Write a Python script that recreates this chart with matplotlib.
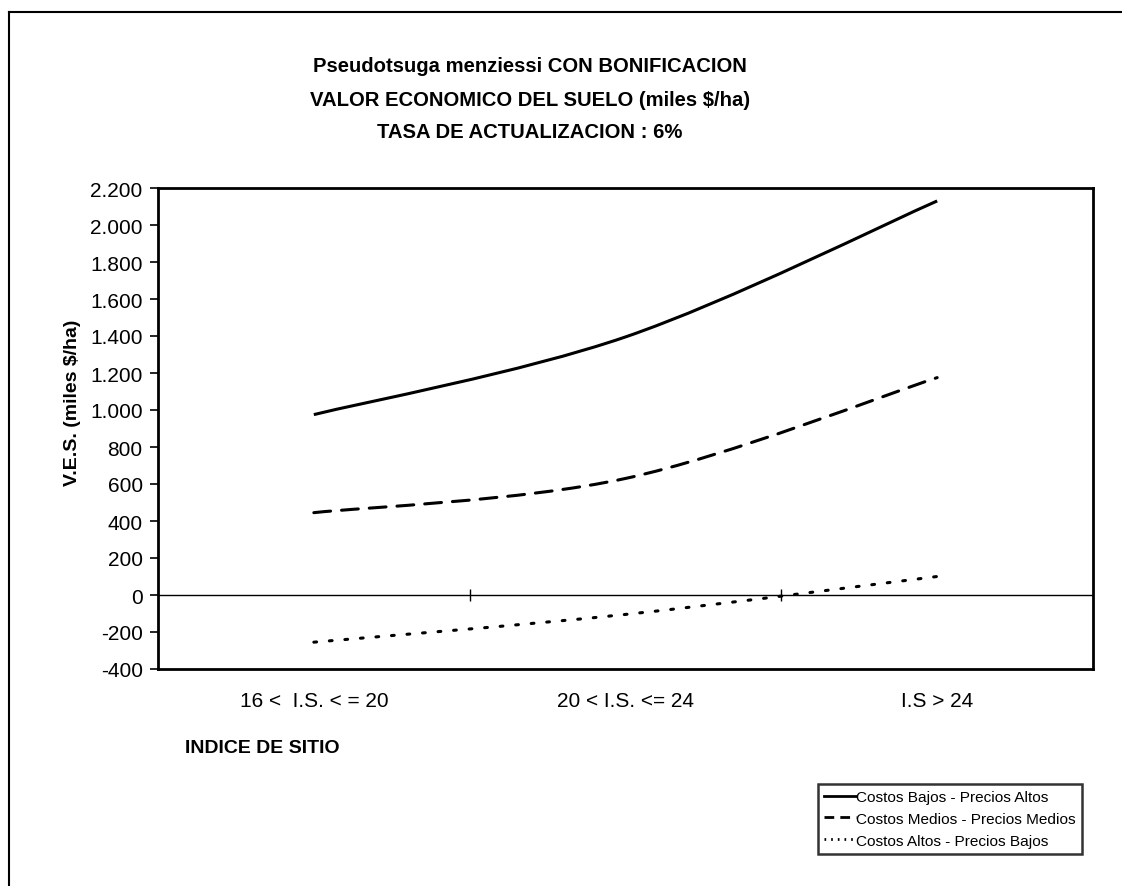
import matplotlib
matplotlib.use("Agg")
import matplotlib.pyplot as plt
from matplotlib.path import Path
from matplotlib.patches import PathPatch
from matplotlib.lines import Line2D
from matplotlib.ticker import FuncFormatter

plt.rcParams['font.family'] = ['Liberation Sans', 'DejaVu Sans']

title_lines = ["Pseudotsuga menziessi CON BONIFICACION",
               "VALOR ECONOMICO DEL SUELO (miles $/ha)",
               "TASA DE ACTUALIZACION : 6%"]
categories = ["16 <  I.S. < = 20", "20 < I.S. <= 24", "I.S > 24"]
series_names = ["Costos Bajos - Precios Altos",
                "Costos Medios - Precios Medios",
                "Costos Altos - Precios Bajos"]
bajos_altos = [975, 1395, 2130]
medios_medios = [445, 630, 1175]
altos_bajos = [-255, -105, 100]
y_ticks = list(range(-400, 2201, 200))

fig = plt.figure(figsize=(11.22, 8.87), dpi=100)
ax = fig.add_axes([158/1122, 1-670/887, (1093-158)/1122, (670-189)/887])

def smooth_path(xs, ys):
    pts = list(zip(xs, ys))
    n = len(pts)
    verts = [pts[0]]
    codes = [Path.MOVETO]
    for i in range(n-1):
        p0 = pts[i-1] if i > 0 else pts[i]
        p1 = pts[i]
        p2 = pts[i+1]
        p3 = pts[i+2] if i+2 < n else pts[i+1]
        c1 = (p1[0] + (p2[0]-p0[0])/6, p1[1] + (p2[1]-p0[1])/6)
        c2 = (p2[0] - (p3[0]-p1[0])/6, p2[1] - (p3[1]-p1[1])/6)
        verts += [c1, c2, p2]
        codes += [Path.CURVE4]*3
    return Path(verts, codes)

xs = list(range(len(categories)))
lw = 2.2
styles = [dict(linestyle='-'),
          dict(linestyle=(0, (5.5, 3.6))),
          dict(linestyle=(0, (0.9, 4.2)))]
legend_styles = [dict(linestyle='-'),
                 dict(linestyle=(0, (3.5, 2.2))),
                 dict(linestyle=(0, (0.6, 1.8)))]
all_series = [bajos_altos, medios_medios, altos_bajos]
for vals, st in zip(all_series, styles):
    patch = PathPatch(smooth_path(xs, vals), facecolor='none', edgecolor='black',
                      lw=lw, capstyle='round' if st['linestyle'] != '-' else 'butt',
                      **st)
    ax.add_patch(patch)

# zero line with category-boundary ticks
ax.axhline(0, color='black', lw=1.0, zorder=1)
ax.plot([0.5, 1.5], [0, 0], linestyle='none', marker='|', color='black',
        markersize=9, markeredgewidth=1.0)

ax.set_xlim(-0.5, len(categories)-0.5)
ax.set_ylim(-400, 2200)
ax.set_yticks(y_ticks)
ax.yaxis.set_major_formatter(FuncFormatter(lambda v, p: f"{int(v):,}".replace(",", ".")))
ax.set_xticks(xs)
ax.set_xticklabels(categories)
ax.tick_params(axis='x', length=0, pad=16, labelsize=15)
ax.tick_params(axis='y', length=6, width=1.2, direction='out', pad=5, labelsize=15)
for s in ax.spines.values():
    s.set_linewidth(2.0)

fig.text(72/1122, 1-403/887, "V.E.S. (miles $/ha)", rotation=90, ha='center',
         va='center', fontsize=14, fontweight='bold')

# titles
for i, t in enumerate(title_lines):
    fig.text(530/1122, 1-(67+33*i)/887, t, ha='center', va='center',
             fontsize=14.6, fontweight='bold')

fig.text(185/1122, 1-749/887, "INDICE DE SITIO", ha='left', va='center',
         fontsize=14, fontweight='bold')

handles = [Line2D([], [], color='black', lw=2.0, **st) for st in legend_styles]
leg = fig.legend(handles, series_names, loc='upper right',
                 bbox_to_anchor=(1082/1122, 1-785/887), frameon=True,
                 fancybox=False, shadow=False, fontsize=11.1,
                 handlelength=2.1, handletextpad=0.0, labelspacing=0.5,
                 borderpad=0.4, borderaxespad=0)
leg.get_frame().set_edgecolor('black')
leg.get_frame().set_linewidth(1.8)

# outer frame (left and top edges)
fig.add_artist(Line2D([9/1122, 9/1122], [0, 1-13/887], color='black', lw=1.5,
                      transform=fig.transFigure))
fig.add_artist(Line2D([9/1122, 1], [1-13/887, 1-13/887], color='black', lw=1.5,
                      transform=fig.transFigure))

fig.savefig("out.png", dpi=100)
